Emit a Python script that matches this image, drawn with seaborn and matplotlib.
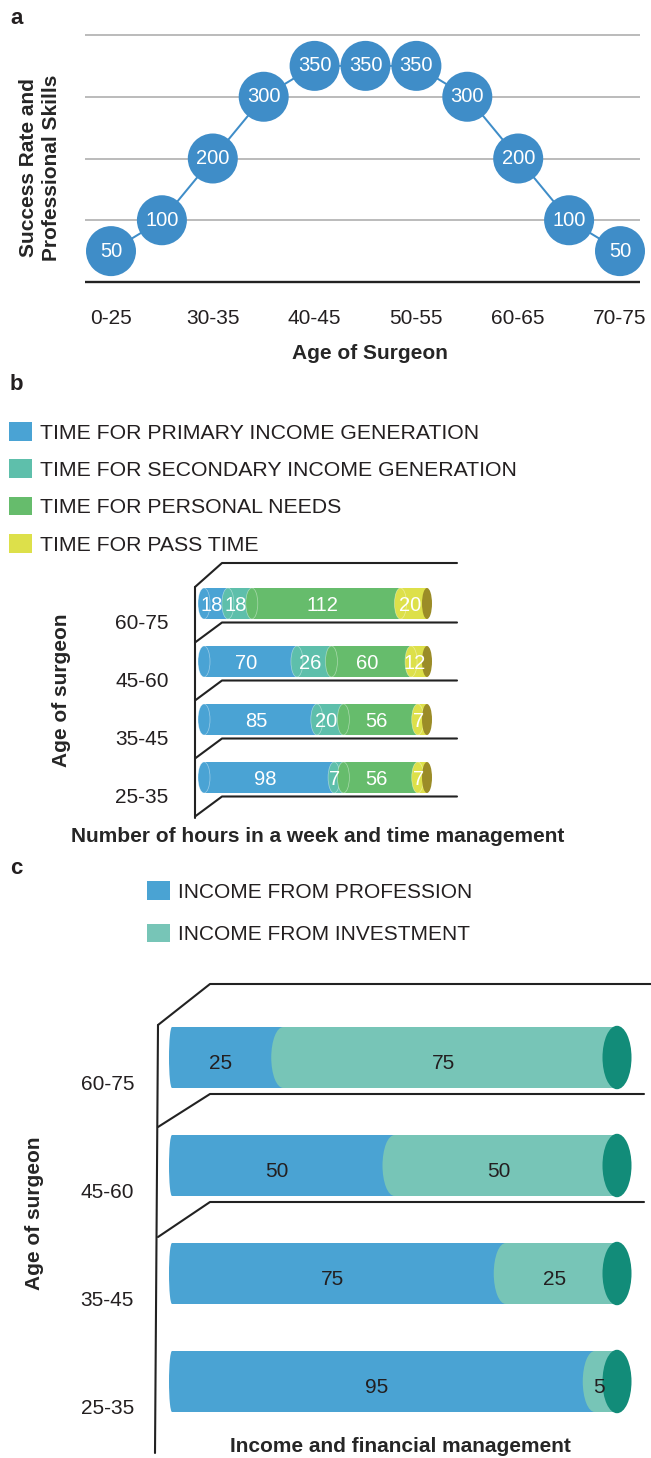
import numpy as np
import pandas as pd
import matplotlib
matplotlib.use("Agg")
import matplotlib.pyplot as plt
import seaborn as sns
from matplotlib.patches import Ellipse, Patch
from matplotlib.lines import Line2D

# ---------------- data ----------------
age_groups_a = ["0-25", "25-30", "30-35", "35-40", "40-45", "45-50",
                "50-55", "55-60", "60-65", "65-70", "70-75"]
success_scores = [50, 100, 200, 300, 350, 350, 350, 300, 200, 100, 50]
age_tick_labels = ["0-25", "30-35", "40-45", "50-55", "60-65", "70-75"]

age_groups_bc = ["60-75", "45-60", "35-45", "25-35"]
time_series = ["TIME FOR PRIMARY INCOME GENERATION",
               "TIME FOR SECONDARY INCOME GENERATION",
               "TIME FOR PERSONAL NEEDS",
               "TIME FOR PASS TIME"]
primary_hours = [18, 70, 85, 98]
secondary_hours = [18, 26, 20, 7]
personal_hours = [112, 60, 56, 56]
pass_hours = [20, 12, 7, 7]

income_series = ["INCOME FROM PROFESSION", "INCOME FROM INVESTMENT"]
profession_income = [25, 50, 75, 95]
investment_income = [75, 50, 25, 5]

# ---------------- style ----------------
W, H = 651, 1458
PT = 72 / 100.0
TXT = "#231F20"
blue_a = "#3F8DC8"
colors_b = ["#4AA3D4", "#5EBFAB", "#66BC6C", "#DDE04A"]
cap_b = "#9B8C27"
colors_c = ["#4AA3D3", "#77C5B7"]
cap_c = "#128C79"

sns.set_style("white")
plt.rcParams["font.family"] = ["Liberation Sans", "DejaVu Sans"]
plt.rcParams["text.color"] = TXT

fig = plt.figure(figsize=(W / 100, H / 100), dpi=100)


def rect(x0, y0, x1, y1):
    return [x0 / W, 1 - y1 / H, (x1 - x0) / W, (y1 - y0) / H]


def fx(x):
    return x / W


def fy(y):
    return 1 - y / H


# ---------------- panel a ----------------
axa = fig.add_axes(rect(85, 30, 640, 285))
axa.patch.set_alpha(0)
ua = 400 / (282 - 35)
xa = np.arange(len(age_groups_a))
dfa = pd.DataFrame({"pos": xa, "score": success_scores})
sns.lineplot(data=dfa, x="pos", y="score", color=blue_a, lw=2 * PT, ax=axa, zorder=2)
sns.scatterplot(data=dfa, x="pos", y="score", color=blue_a, s=(50 * PT) ** 2,
                edgecolor="none", ax=axa, zorder=3, clip_on=False)
for xv, yv in zip(xa, success_scores):
    axa.text(xv, yv, str(yv), ha="center", va="center", color="white",
             fontsize=14.5, zorder=4)
axa.set_xlim((85 - 111) / 50.9, (640 - 111) / 50.9)
axa.set_ylim(-3 * ua, 400 + 5 * ua)
axa.set_yticks([100, 200, 300, 400])
axa.set_yticklabels([])
axa.yaxis.grid(True, color="#A8A8A8", lw=1.1)
axa.axhline(0, color="#222222", lw=1.7, zorder=1)
axa.set_xticks(xa[::2], age_tick_labels)
axa.tick_params(axis="x", length=0, pad=17, labelsize=15, colors=TXT)
axa.tick_params(axis="y", length=0)
for sp in axa.spines.values():
    sp.set_visible(False)
axa.set_xlabel("Age of Surgeon", fontsize=15, weight="bold")
axa.xaxis.set_label_coords(fx(370), fy(344), transform=fig.transFigure)
axa.set_ylabel("Success Rate and\nProfessional Skills", fontsize=15, weight="bold",
               linespacing=1.25)
axa.yaxis.set_label_coords(fx(61), fy(168), transform=fig.transFigure)

# ---------------- overlay for 3D frame lines ----------------
deco = fig.add_axes([0, 0, 1, 1])
deco.set_xlim(0, W)
deco.set_ylim(H, 0)
deco.axis("off")
deco.set_zorder(5)
line_kw = dict(color="#222222", lw=1.5)

# ---------------- panel b ----------------
axb = fig.add_axes(rect(195, 563, 457, 818))
axb.patch.set_alpha(0)
pxh = (427 - 204) / 168.0
bh_b = 31 / 58.0
vals_b = np.array([primary_hours, secondary_hours, personal_hours, pass_hours]).T
cum_b = np.cumsum(vals_b, axis=1)
for j in reversed(range(4)):
    sns.barplot(x=cum_b[:, j], y=age_groups_bc, orient="h", color=colors_b[j],
                width=bh_b, saturation=1, errorbar=None, ax=axb, linewidth=0, zorder=2)
ew_b = 12 / pxh
for i in range(4):
    start = 0
    for j in range(4):
        end = cum_b[i, j]
        axb.add_patch(Ellipse((start, i), ew_b, bh_b, fc=colors_b[j],
                              ec=(1, 1, 1, 0.45), lw=0.5, zorder=3 + j))
        axb.text((start + end) / 2 - 3, i + 0.03, str(vals_b[i, j]), ha="center",
                 va="center", color="white", fontsize=14.5, zorder=20)
        start = end
    axb.add_patch(Ellipse((cum_b[i, -1], i), 10 / pxh, bh_b, fc=cap_b, ec="none", zorder=10))
axb.set_xlim((195 - 204) / pxh, (457 - 204) / pxh)
axb.set_ylim((818 - 603.5) / 58, (563 - 603.5) / 58)
axb.set_xticks([])
axb.set_yticks(np.arange(4) + 0.31, age_groups_bc)
axb.tick_params(axis="y", length=0, pad=19, labelsize=15, colors=TXT)
for sp in axb.spines.values():
    sp.set_visible(False)
axb.set_xlabel("Number of hours in a week and time management", fontsize=15, weight="bold")
axb.xaxis.set_label_coords(fx(318), fy(827), transform=fig.transFigure)
axb.set_ylabel("Age of surgeon", fontsize=15, weight="bold")
axb.yaxis.set_label_coords(fx(71), fy(690), transform=fig.transFigure)

# frame lines b
deco.add_line(Line2D([195, 222, 457], [587, 563, 563], **line_kw))
deco.add_line(Line2D([195, 195], [587, 818], **line_kw))
for i in range(4):
    ys = 603.5 + 58 * i + 19
    deco.add_line(Line2D([195, 222, 457], [ys + 20, ys, ys], **line_kw))

leg_b = fig.legend([Patch(fc=c, ec="none") for c in colors_b], time_series,
                   loc="upper left", bbox_to_anchor=(fx(9), fy(422)), frameon=False,
                   fontsize=15.3, handlelength=23 / 21.2, handleheight=21 / 21.2,
                   handletextpad=8 / 21.2, labelspacing=0.78, borderpad=0,
                   borderaxespad=0)

# ---------------- panel c ----------------
axc = fig.add_axes(rect(157, 984, 651, 1453))
axc.patch.set_alpha(0)
pxc = (617 - 172) / 100.0
bh_c = 61 / 108.0
vals_c = np.array([profession_income, investment_income]).T
cum_c = np.cumsum(vals_c, axis=1)
for j in reversed(range(2)):
    sns.barplot(x=cum_c[:, j], y=age_groups_bc, orient="h", color=colors_c[j],
                width=bh_c, saturation=1, errorbar=None, ax=axc, linewidth=0, zorder=2)
for i in range(4):
    start = 0
    for j in range(2):
        end = cum_c[i, j]
        ew = (6 if j == 0 else 24) / pxc
        axc.add_patch(Ellipse((start, i), ew, bh_c, fc=colors_c[j], ec="none", zorder=3 + j))
        axc.text((start + end) / 2 - 1.5, i + 0.06, str(vals_c[i, j]), ha="center",
                 va="center", color=TXT, fontsize=15, zorder=20)
        start = end
    axc.add_patch(Ellipse((cum_c[i, -1], i), 29 / pxc, bh_c * 1.04, fc=cap_c, ec="none", zorder=10))
axc.set_xlim((157 - 172) / pxc, (651 - 172) / pxc)
axc.set_ylim((1453 - 1057.5) / 108, (984 - 1057.5) / 108)
axc.set_xticks([])
axc.set_yticks(np.arange(4) + 0.235, age_groups_bc)
axc.tick_params(axis="y", length=0, pad=16.5, labelsize=15, colors=TXT)
for sp in axc.spines.values():
    sp.set_visible(False)
axc.set_xlabel("Income and financial management", fontsize=15, weight="bold")
axc.xaxis.set_label_coords(fx(400), fy(1437), transform=fig.transFigure)
axc.set_ylabel("Age of surgeon", fontsize=15, weight="bold")
axc.yaxis.set_label_coords(fx(44), fy(1213), transform=fig.transFigure)

# frame lines c
deco.add_line(Line2D([158, 210, 651], [1025, 984, 984], **line_kw))
deco.add_line(Line2D([158, 155], [1025, 1453], **line_kw))
deco.add_line(Line2D([158, 210, 644], [1127, 1094, 1094], **line_kw))
deco.add_line(Line2D([158, 210, 644], [1237, 1202, 1202], **line_kw))

leg_c = fig.legend([Patch(fc=c, ec="none") for c in colors_c], income_series,
                   loc="upper left", bbox_to_anchor=(fx(147), fy(881)), frameon=False,
                   fontsize=15, handlelength=23 / 20.8, handleheight=21 / 20.8,
                   handletextpad=8 / 20.8, labelspacing=1.06, borderpad=0,
                   borderaxespad=0)

# panel letters
for lab, yy in [("a", 19), ("b", 385), ("c", 868)]:
    fig.text(fx(10), fy(yy), lab, fontsize=16, weight="bold", va="center", ha="left")

fig.savefig("out.png", dpi=100)
